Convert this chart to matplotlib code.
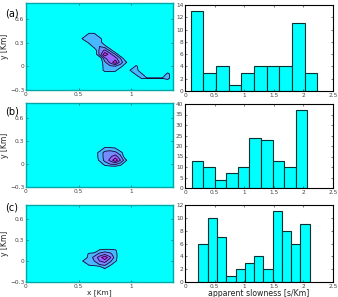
import numpy as np
import matplotlib
matplotlib.use("Agg")
import matplotlib.pyplot as plt
from matplotlib import cm

# ---------------- data ----------------
# contour panels: sparse samples (x [Km], y [Km], normalized value) on a 0.05 Km grid
a_x = [0.60, 0.65,
       0.55, 0.60, 0.65, 0.70,
       0.60, 0.65, 0.70,
       0.65, 0.70, 0.75,
       0.70, 0.75, 0.80,
       0.70, 0.75, 0.80, 0.85,
       0.75, 0.80, 0.85, 0.90,
       0.75, 0.80, 0.85, 0.90, 0.95,
       0.75, 0.80, 0.85, 0.90,
       0.75, 0.80, 0.85,
       1.05, 1.00, 1.05, 1.10, 1.05, 1.10, 1.15, 1.20, 1.25, 1.30, 1.35, 1.35]
a_y = [0.40, 0.40,
       0.35, 0.35, 0.35, 0.35,
       0.30, 0.30, 0.30,
       0.25, 0.25, 0.25,
       0.20, 0.20, 0.20,
       0.15, 0.15, 0.15, 0.15,
       0.10, 0.10, 0.10, 0.10,
       0.05, 0.05, 0.05, 0.05, 0.05,
       0.00, 0.00, 0.00, 0.00,
       -0.05, -0.05, -0.05,
       0.00, -0.05, -0.05, -0.10, -0.10, -0.15, -0.15, -0.15, -0.15, -0.15, -0.10, -0.15]
a_v = [0.30, 0.30,
       0.30, 0.35, 0.35, 0.30,
       0.25, 0.35, 0.35,
       0.30, 0.40, 0.30,
       0.45, 0.65, 0.35,
       0.45, 0.95, 0.70, 0.40,
       0.55, 0.75, 0.70, 0.40,
       0.35, 0.65, 0.95, 0.50, 0.25,
       0.30, 0.35, 0.40, 0.30,
       0.30, 0.30, 0.28,
       0.25, 0.25, 0.30, 0.25, 0.25, 0.22, 0.21, 0.21, 0.21, 0.21, 0.30, 0.30]

b_x = [0.75, 0.80, 0.85, 0.70, 0.75, 0.80, 0.85, 0.90, 0.70, 0.75, 0.80, 0.85, 0.90,
       0.70, 0.75, 0.80, 0.85, 0.90, 0.95, 0.75, 0.80, 0.85, 0.90]
b_y = [0.20, 0.20, 0.20, 0.15, 0.15, 0.15, 0.15, 0.15, 0.10, 0.10, 0.10, 0.10, 0.10,
       0.05, 0.05, 0.05, 0.05, 0.05, 0.05, 0.00, 0.00, 0.00, 0.00]
b_v = [0.30, 0.30, 0.25, 0.30, 0.45, 0.50, 0.45, 0.30, 0.30, 0.45, 0.55, 0.70, 0.45,
       0.25, 0.45, 0.65, 0.95, 0.60, 0.25, 0.30, 0.40, 0.45, 0.30]

c_x = [0.70, 0.75, 0.80, 0.85, 0.60, 0.65, 0.70, 0.75, 0.80, 0.85, 0.60, 0.65, 0.70, 0.75, 0.80, 0.85,
       0.55, 0.60, 0.65, 0.70, 0.75, 0.80, 0.85, 0.60, 0.65, 0.70, 0.75, 0.80, 0.75]
c_y = [0.15, 0.15, 0.15, 0.15, 0.10, 0.10, 0.10, 0.10, 0.10, 0.10, 0.05, 0.05, 0.05, 0.05, 0.05, 0.05,
       0.00, 0.00, 0.00, 0.00, 0.00, 0.00, 0.00, -0.05, -0.05, -0.05, -0.05, -0.05, -0.10]
c_v = [0.25, 0.30, 0.30, 0.25, 0.25, 0.30, 0.45, 0.55, 0.45, 0.30, 0.30, 0.45, 0.70, 0.95, 0.65, 0.30,
       0.25, 0.30, 0.40, 0.60, 0.70, 0.45, 0.25, 0.25, 0.30, 0.40, 0.45, 0.30, 0.25]

# histogram panels: bin left edge, bin width, counts
a_bin_start, a_bin_width = 0.096, 0.2138
a_counts = [13, 3, 4, 1, 3, 4, 4, 4, 11, 3]
b_bin_start, b_bin_width = 0.113, 0.1952
b_counts = [13, 10, 4, 7, 10, 24, 23, 13, 10, 37]
c_bin_start, c_bin_width = 0.228, 0.1566
c_counts = [6, 10, 7, 1, 2, 3, 4, 2, 11, 8, 6, 9]

hist_ylims = [14, 40, 12]
hist_yticks = [np.arange(0, 15, 2), np.arange(0, 41, 5), np.arange(0, 13, 2)]
panel_labels = ['(a)', '(b)', '(c)']

# ---------------- figure ----------------
fig = plt.figure(figsize=(3.38, 2.97), dpi=100)
W, H = 338.0, 297.0

rows_left = [(3, 90), (103, 187), (205, 282)]
rows_right = [(5, 91), (104, 188), (205, 282)]
lx0, lx1 = 26, 173
rx0, rx1 = 185, 333

grid_x = np.round(np.arange(0, 1.4001, 0.05), 3)
grid_y = np.round(np.arange(-0.3, 0.8001, 0.05), 3)

levels = [0, 0.2, 0.4, 0.6, 0.8, 1.0]
cols = [cm.cool(t) for t in [0.0, 0.28, 0.45, 0.6, 0.8]]

contour_data = [(a_x, a_y, a_v), (b_x, b_y, b_v), (c_x, c_y, c_v)]
hist_data = [(a_bin_start, a_bin_width, a_counts),
             (b_bin_start, b_bin_width, b_counts),
             (c_bin_start, c_bin_width, c_counts)]

tick_fs = 4.2
tick_col = '#444444'

for k in range(3):
    t, b = rows_left[k]
    axl = fig.add_axes([lx0 / W, 1 - b / H, (lx1 - lx0) / W, (b - t) / H])
    Z = np.zeros((len(grid_y), len(grid_x)))
    xs, ys, vs = contour_data[k]
    for x, y, v in zip(xs, ys, vs):
        i = int(round(x / 0.05))
        j = int(round((y + 0.3) / 0.05))
        Z[j, i] = v
    axl.contourf(grid_x, grid_y, Z, levels=levels, colors=cols)
    axl.contour(grid_x, grid_y, Z, levels=levels[1:-1], colors='#101030', linewidths=0.6)
    axl.set_xlim(0, 1.4)
    axl.set_ylim(-0.3, 0.8)
    axl.set_xticks([0, 0.5, 1])
    axl.set_xticklabels(['0', '0.5', '1'])
    axl.set_yticks([-0.3, 0, 0.3, 0.6])
    axl.set_yticklabels(['\u22120.3', '0', '0.3', '0.6'])
    axl.tick_params(direction='in', length=1.5, width=0.5, labelsize=tick_fs,
                    colors=tick_col, pad=1.2, top=True, right=True)
    for s in axl.spines.values():
        s.set_color('#00a8a8')
        s.set_linewidth(1.0)
    axl.set_ylabel('y [Km]', fontsize=5.5, labelpad=1, color='#222222')
    if k == 2:
        axl.set_xlabel('x [Km]', fontsize=5.3, labelpad=0.3, color='#222222')

    # histogram
    t, b = rows_right[k]
    axr = fig.add_axes([rx0 / W, 1 - b / H, (rx1 - rx0) / W, (b - t) / H])
    start, width, counts = hist_data[k]
    lefts = start + width * np.arange(len(counts))
    axr.bar(lefts, counts, width=width, align='edge', color='#00ffff',
            edgecolor='#0a3030', linewidth=0.8)
    axr.set_xlim(0, 2.5)
    axr.set_ylim(0, hist_ylims[k])
    axr.set_xticks([0, 0.5, 1, 1.5, 2, 2.5])
    axr.set_xticklabels(['0', '0.5', '1', '1.5', '2', '2.5'])
    axr.set_yticks(hist_yticks[k])
    axr.tick_params(direction='in', length=1.5, width=0.5, labelsize=tick_fs,
                    colors=tick_col, pad=1.2, top=True, right=True)
    for s in axr.spines.values():
        s.set_color('black')
        s.set_linewidth(0.8)
    if k == 2:
        axr.set_xlabel('apparent slowness [s/Km]', fontsize=5.6, labelpad=0.3, color='#222222')

fig.text(5 / W, 1 - 13 / H, '(a)', fontsize=7, va='center', ha='left')
fig.text(5 / W, 1 - 111 / H, '(b)', fontsize=7, va='center', ha='left')
fig.text(5 / W, 1 - 208 / H, '(c)', fontsize=7, va='center', ha='left')

fig.savefig('out.png', dpi=100)
